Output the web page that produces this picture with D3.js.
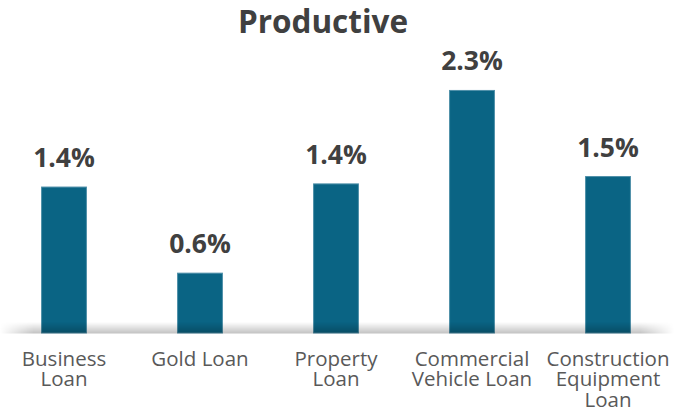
<!DOCTYPE html>
<html>
<head>
<meta charset="utf-8">
<script src="https://cdn.jsdelivr.net/npm/d3@7"></script>
<style>
  html, body { margin: 0; padding: 0; background: #fff; }
  svg { display: block; font-family: "Open Sans", "Noto Sans", sans-serif; }
</style>
</head>
<body>
<svg id="chart" width="674" height="409"></svg>
<script>
// Loan categories, each label split into its display lines
const categories = ["Business Loan", "Gold Loan", "Property Loan", "Commercial Vehicle Loan", "Construction Equipment Loan"];
const categoryLines = [["Business", "Loan"], ["Gold Loan"], ["Property", "Loan"], ["Commercial", "Vehicle Loan"], ["Construction", "Equipment", "Loan"]];
// Share in percent
const values = [1.39, 0.57, 1.42, 2.31, 1.49];
const title = "Productive";

const width = 674, height = 409;
const baseY = 333;

const svg = d3.select("#chart");

const x = d3.scaleBand()
  .domain(categories)
  .range([-4, 676])
  .paddingInner(0.67)
  .paddingOuter(0.335);

const y = d3.scaleLinear()
  .domain([0, 2.6])
  .range([baseY, baseY - 2.6 * 105]);

const fmt = v => d3.format(".1f")(v) + "%";

const defs = svg.append("defs");

// Soft floor shadow: vertical fade up from the baseline, horizontal fade at both ends
const vg = defs.append("linearGradient").attr("id", "floorShade")
  .attr("x1", 0).attr("y1", 0).attr("x2", 0).attr("y2", 1);
vg.append("stop").attr("offset", "0%").attr("stop-color", "#000").attr("stop-opacity", 0);
vg.append("stop").attr("offset", "100%").attr("stop-color", "#000").attr("stop-opacity", 0.24);

const hg = defs.append("linearGradient").attr("id", "floorFadeH")
  .attr("x1", 0).attr("y1", 0).attr("x2", 1).attr("y2", 0);
hg.append("stop").attr("offset", "0%").attr("stop-color", "#fff").attr("stop-opacity", 0);
hg.append("stop").attr("offset", "5%").attr("stop-color", "#fff").attr("stop-opacity", 1);
hg.append("stop").attr("offset", "95%").attr("stop-color", "#fff").attr("stop-opacity", 1);
hg.append("stop").attr("offset", "100%").attr("stop-color", "#fff").attr("stop-opacity", 0);

const mask = defs.append("mask").attr("id", "floorMask");
mask.append("rect").attr("x", 0).attr("y", baseY - 12).attr("width", width).attr("height", 13)
  .attr("fill", "url(#floorFadeH)");

// Title
svg.append("text")
  .attr("x", 323)
  .attr("y", 33)
  .attr("text-anchor", "middle")
  .attr("font-size", 31.5)
  .attr("font-weight", 700)
  .attr("fill", "#404040")
  .text(title);

// Bars
svg.append("g").selectAll("rect")
  .data(values)
  .join("rect")
  .attr("x", (d, i) => x(categories[i]))
  .attr("y", d => y(d))
  .attr("width", x.bandwidth())
  .attr("height", d => y(0) - y(d))
  .attr("fill", "#0a6484")
  .attr("stroke", "#4f90a9")
  .attr("stroke-width", 1);

// Floor shadow drawn over the bar bases
svg.append("rect")
  .attr("x", 0)
  .attr("y", baseY - 11)
  .attr("width", width)
  .attr("height", 11.5)
  .attr("fill", "url(#floorShade)")
  .attr("mask", "url(#floorMask)");

// Value labels
svg.append("g").selectAll("text")
  .data(values)
  .join("text")
  .attr("x", (d, i) => x(categories[i]) + x.bandwidth() / 2)
  .attr("y", d => y(d) - 20)
  .attr("text-anchor", "middle")
  .attr("font-size", 26.5)
  .attr("font-weight", 700)
  .attr("fill", "#404040")
  .text(d => fmt(d));

// Category labels
const cat = svg.append("g").selectAll("text")
  .data(categories)
  .join("text")
  .attr("x", d => x(d) + x.bandwidth() / 2)
  .attr("y", 366)
  .attr("text-anchor", "middle")
  .attr("font-size", 20.5)
  .attr("fill", "#595959");

cat.selectAll("tspan")
  .data((d, i) => categoryLines[i])
  .join("tspan")
  .attr("x", function () { return d3.select(this.parentNode).attr("x"); })
  .attr("dy", (d, i) => i === 0 ? 0 : 20.3)
  .text(d => d);
</script>
</body>
</html>
